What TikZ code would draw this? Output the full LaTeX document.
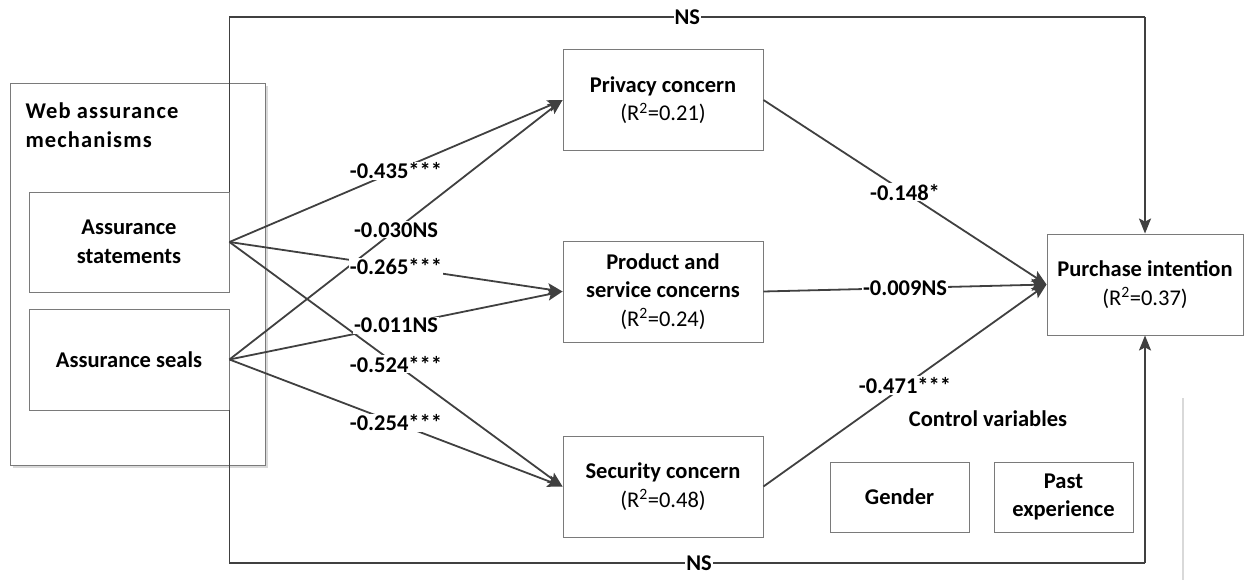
\documentclass[tikz,border=0pt]{standalone}
\usepackage{fontspec}
\setmainfont{Carlito}
\usetikzlibrary{arrows.meta}
\definecolor{linegray}{HTML}{404040}
\definecolor{boxgray}{HTML}{7A7A7A}
\definecolor{shadegray}{HTML}{D9D9D9}
\newcommand\diagfont{\fontsize{22.5}{28.5}\selectfont}
\begin{document}
\begin{tikzpicture}[x=1pt,y=-1pt,
  font=\diagfont,
  box/.style={draw=boxgray, line width=0.9pt, fill=white, align=center,
    inner sep=2pt, font=\diagfont\bfseries},
  link/.style={draw=linegray, line width=1.8pt,
    -{Stealth[length=15pt,width=12pt,inset=3pt]}},
  loop/.style={draw=linegray, line width=1.8pt},
  coef/.style={fill=white, inner sep=1pt, font=\diagfont\bfseries},
  rsq/.style={font=\diagfont\mdseries}]
\useasboundingbox (0,0) rectangle (1244,580);

% outer group with its drop shadow
\fill[shadegray] (13,86) rectangle (268,468);
\draw[boxgray, line width=0.9pt, fill=white] (10,83) rectangle (265,465);
\node[anchor=west, align=left, font=\diagfont\bfseries\addfontfeature{LetterSpace=5}]
  (title) at (22,125) {Web assurance\\mechanisms};

% constructs
\node[box, minimum width=200pt, minimum height=100pt] (stmt) at (129,242)
  {Assurance\\statements};
\node[box, minimum width=200pt, minimum height=101pt] (seals) at (129,359.5)
  {Assurance seals};
\node[box, minimum width=200pt, minimum height=101pt] (priv) at (663,100)
  {Privacy concern\\\textmd{(R\textsuperscript{2}=0.21)}};
\node[box, minimum width=200pt, minimum height=101pt] (prod) at (663,291.5)
  {Product and\\service concerns\\\textmd{(R\textsuperscript{2}=0.24)}};
\node[box, minimum width=200pt, minimum height=101pt] (sec) at (663,486.5)
  {Security concern\\\textmd{(R\textsuperscript{2}=0.48)}};
\node[box, minimum width=196pt, minimum height=101pt] (pi) at (1145,284.5)
  {Purchase intention\\\textmd{(R\textsuperscript{2}=0.37)}};

% control variables
\node[font=\diagfont\bfseries] (ctrl) at (988,419) {Control variables};
\node[box, minimum width=139pt, minimum height=70pt] (gender) at (899.5,497) {Gender};
\node[box, minimum width=139pt, minimum height=70pt] (past) at (1063.5,497)
  {Past\\experience};
\draw[shadegray, line width=2pt] (1183,398) -- (1183,580);

% direct effects of the assurance mechanisms on purchase intention
\coordinate (topy) at (0,17);
\coordinate (boty) at (0,563);
\draw[loop] (stmt.north east) -- (stmt.north east |- topy) -- (pi.north |- topy);
\draw[link] (pi.north |- topy) -- (pi.north);
\draw[loop] (seals.south east) -- (seals.south east |- boty) -- (pi.south |- boty);
\draw[link] (pi.south |- boty) -- (pi.south);
\path (stmt.north east |- topy) -- node[coef] {NS} (pi.north |- topy);
\path (seals.south east |- boty) -- node[coef, pos=0.513] {NS} (pi.south |- boty);

% paths to the concerns
\draw[link] (stmt.east) -- (priv.west);
\draw[link] (seals.east) -- (priv.west);
\draw[link] (stmt.east) -- (prod.west);
\draw[link] (seals.east) -- (prod.west);
\draw[link] (stmt.east) -- (sec.west);
\draw[link] (seals.east) -- (sec.west);
\draw[link] (priv.east) -- (pi.west);
\draw[link] (prod.east) -- (pi.west);
\draw[link] (sec.east) -- (pi.west);

% path coefficients
\path (stmt.east) -- node[coef] {-0.435***} (priv.west);
\path (seals.east) -- node[coef] {-0.030NS} (priv.west);
\path (stmt.east) -- node[coef] {-0.265***} (prod.west);
\path (seals.east) -- node[coef] {-0.011NS} (prod.west);
\path (stmt.east) -- node[coef] {-0.524***} (sec.west);
\path (seals.east) -- node[coef] {-0.254***} (sec.west);
\path (priv.east) -- node[coef] {-0.148*} (pi.west);
\path (prod.east) -- node[coef] {-0.009NS} (pi.west);
\path (sec.east) -- node[coef] {-0.471***} (pi.west);
\end{tikzpicture}
\end{document}
